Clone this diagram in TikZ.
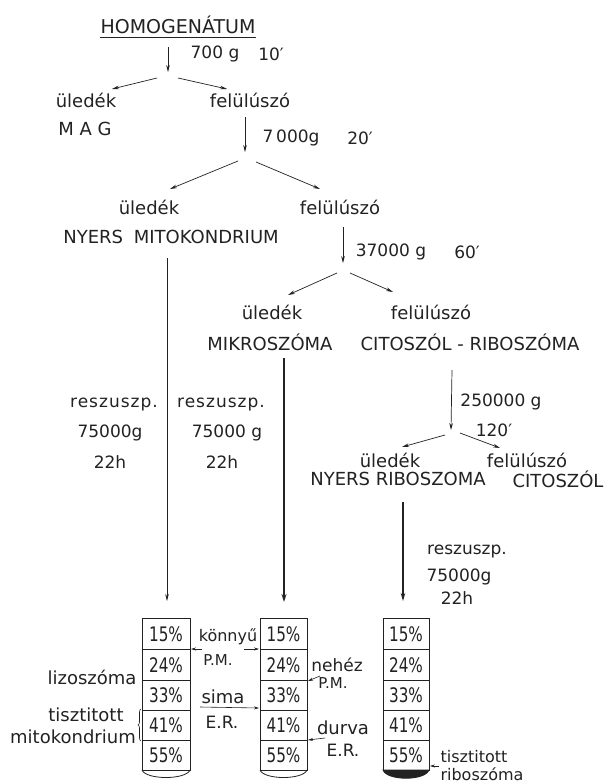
\documentclass[tikz,border=0pt]{standalone}
\usepackage{fontspec}
\setmainfont{DejaVu Sans}
\usepackage{graphicx}
\usetikzlibrary{arrows.meta,decorations.pathreplacing}
\newcommand\pcell[1]{\scalebox{0.76}[1]{#1\%}}
\definecolor{ink}{HTML}{222222}
\tikzset{
  txt/.style={inner sep=0pt, text=ink, font=\fontsize{18}{20}\selectfont},
  sm/.style={inner sep=0pt, text=ink, font=\fontsize{17}{19}\selectfont},
  num/.style={inner sep=0pt, text=ink, font=\fontsize{17}{19}\selectfont},
  pct/.style={inner sep=0pt, text=ink, font=\fontsize{20}{21}\selectfont},
  arr/.style={draw=ink, -{Stealth[length=7pt,width=3.6pt]}, line width=0.7pt},
  sarr/.style={draw=ink, -{Stealth[length=5pt,width=3pt]}, line width=0.6pt},
  tube/.style={draw=ink, line width=0.8pt},
}
\begin{document}
\begin{tikzpicture}[x=1pt,y=-1pt]
\useasboundingbox (0,0) rectangle (605,784);
\fill[white] (0,0) rectangle (605,784);

% level 1
\node[txt, font=\fontsize{19}{21}\selectfont] (homo) at (178,25) {HOMOGENÁTUM};
\draw[ink, line width=0.6pt] ([yshift=-3pt]homo.south west) -- ([yshift=-3pt]homo.south east);
\coordinate (a1s) at (168,47); \coordinate (a1e) at (168,72);
\draw[arr] (a1s) -- (a1e);
\node[num] (g700) at (215,54) {700 g};
\node[num] (t10) at (271,54) {10′};
\coordinate (b1) at (157,78); \coordinate (b1l) at (112,89);
\coordinate (b1r0) at (178,78); \coordinate (b1r) at (227,89);
\draw[arr] (b1) -- (b1l);
\draw[arr] (b1r0) -- (b1r);
\node[txt] (ul1n) at (86,100) {üledék};
\node[txt] (mag) at (85,129) {M A G};
\node[txt] (fel1) at (250,100) {felülúszó};

% level 2
\coordinate (a2s) at (245,117); \coordinate (a2e) at (245,152);
\draw[arr] (a2s) -- (a2e);
\node[num] (g7000) at (291,138) {7\,000g};
\node[num] (t20) at (360,138) {20′};
\coordinate (b2l0) at (238,161); \coordinate (b2l) at (170,189);
\coordinate (b2r0) at (256,162); \coordinate (b2r) at (320,189);
\draw[arr] (b2l0) -- (b2l);
\draw[arr] (b2r0) -- (b2r);
\node[txt] (ul2) at (149,207) {üledék};
\node[txt] (fel2) at (340,207) {felülúszó};
\node[txt] (nyersm) at (171,237) {NYERS\hspace{0.6em}MITOKONDRIUM};

% level 3
\coordinate (a3s) at (343,227); \coordinate (a3e) at (343,263);
\draw[arr] (a3s) -- (a3e);
\node[num] (g37) at (391,252) {37000 g};
\node[num] (t60) at (467,252) {60′};
\coordinate (b3l0) at (337,273); \coordinate (b3l) at (288,295);
\coordinate (b3r0) at (350,273); \coordinate (b3r) at (393,292);
\draw[arr] (b3l0) -- (b3l);
\draw[arr] (b3r0) -- (b3r);
\node[txt] (ul3) at (272,312) {üledék};
\node[txt] (fel3) at (431,312) {felülúszó};
\node[txt] (mikro) at (270,342) {MIKROSZÓMA};
\node[txt] (citrib) at (470,342) {CITOSZÓL - RIBOSZÓMA};

% level 4
\coordinate (a4s) at (452,370); \coordinate (a4e) at (451,430);
\draw[arr] (a4s) -- (a4e);
\node[num] (g250) at (501,402) {250000 g};
\node[num] (t120) at (494,430) {120′};
\coordinate (b4l0) at (445,435); \coordinate (b4l) at (402,447);
\coordinate (b4r0) at (460,433); \coordinate (b4r) at (500,448);
\draw[arr] (b4l0) -- (b4l);
\draw[arr] (b4r0) -- (b4r);
\node[txt] (ul4) at (390,460) {üledék};
\node[txt] (fel4) at (527,460) {felülúszó};
\node[txt] (nyersr) at (398,479) {NYERS RIBOSZOMA};
\node[txt] (cito) at (558,479) {CITOSZÓL};

% resuspension labels
\node[num, font=\fontsize{17}{19}\selectfont\addfontfeatures{LetterSpace=6}] (rs1) at (114,405) {reszuszp.};
\node[num] (g75a) at (110,433) {75000g};
\node[num] (h22a) at (110,462) {22h};
\node[num, font=\fontsize{17}{19}\selectfont\addfontfeatures{LetterSpace=6}] (rs2) at (221,405) {reszuszp.};
\node[num] (g75b) at (227,433) {75000 g};
\node[num] (h22b) at (222,462) {22h};
\node[num] (rs3) at (467,552) {reszuszp.};
\node[num] (g75c) at (459,577) {75000g};
\node[num] (h22c) at (457,598) {22h};

% long arrows to tubes
\coordinate (l1s) at (167,258); \coordinate (l1e) at (167,601);
\coordinate (l2s) at (284,358); \coordinate (l2e) at (284,602);
\coordinate (l3s) at (403,502); \coordinate (l3e) at (403,601);
\draw[arr] (l1s) -- (l1e);
\draw[arr, line width=1.5pt, -{Stealth[length=8pt,width=5pt]}] (l2s) -- (l2e);
\draw[arr, line width=1.1pt, -{Stealth[length=8pt,width=4.5pt]}] (l3s) -- (l3e);

% tubes
\foreach \t/\xa/\xb in {1/142/190, 2/260/307, 3/383/429}{
  \draw[tube] (\xa,618) rectangle (\xb,770);
  \foreach \yy in {649,680,710,740}{ \draw[tube] (\xa,\yy) -- (\xb,\yy); }
  \coordinate (tube\t tl) at (\xa,618);
  \coordinate (tube\t br) at (\xb,770);
  \node[pct] (t\t r1) at ({(\xa+\xb)/2},634) {\pcell{15}};
  \node[pct] (t\t r2) at ({(\xa+\xb)/2},665) {\pcell{24}};
  \node[pct] (t\t r3) at ({(\xa+\xb)/2},695) {\pcell{33}};
  \node[pct] (t\t r4) at ({(\xa+\xb)/2},725) {\pcell{41}};
  \node[pct] (t\t r5) at ({(\xa+\xb)/2},755) {\pcell{55}};
}
\draw[tube] (142,770) .. controls (146,780) and (186,780) .. (190,770);
\draw[tube] (260,770) .. controls (264,780) and (303,780) .. (307,770);
\draw[tube, fill=ink] (383,770) .. controls (387,781) and (425,781) .. (429,770) -- cycle;

% labels around tube 1
\node[sm, font=\fontsize{18}{20}\selectfont] (lizo) at (92,677) {lizoszóma};
\node[sm, font=\fontsize{18}{20}\selectfont] (tiszt1) at (86,715) {tisztitott};
\node[sm, font=\fontsize{18}{20}\selectfont] (mito) at (73,737) {mitokondrium};
\draw[ink, line width=0.6pt, decorate, decoration={brace, amplitude=3pt}] (141,741) -- (141,709);

% labels between tubes 1 and 2
\node[sm, font=\fontsize{16}{18}\selectfont] (konny) at (228,637) {könnyű};
\node[sm, font=\fontsize{15}{17}\selectfont] (pm1) at (218,660) {P.M.};
\coordinate (k1) at (202,649); \coordinate (k1e) at (191,649);
\coordinate (k2) at (244,649); \coordinate (k2e) at (259,649);
\draw[sarr] (k1) -- (k1e);
\draw[sarr] (k2) -- (k2e);
\node[sm, font=\fontsize{18}{20}\selectfont] (sima) at (223,697) {sima};
\node[sm] (er1) at (222,722) {E.R.};
\coordinate (s1) at (200,707); \coordinate (s1e) at (259,708);
\draw[sarr] (s1) -- (s1e);

% labels right of tube 2
\node[sm] (nehez) at (337,665) {nehéz};
\node[sm, font=\fontsize{15}{17}\selectfont] (pm2) at (333,683) {P.M.};
\coordinate (n1) at (320,676); \coordinate (n1e) at (308,681);
\draw[sarr] (n1) -- (n1e);
\node[sm, font=\fontsize{18}{20}\selectfont] (durva) at (343,728) {durva};
\node[sm] (er2) at (343,750) {E.R.};
\coordinate (d1) at (325,738); \coordinate (d1e) at (308,740);
\draw[sarr] (d1) -- (d1e);

% labels right of tube 3
\node[sm, font=\fontsize{16}{18}\selectfont] (tiszt3) at (474,757) {tisztitott};
\node[sm, font=\fontsize{16}{18}\selectfont] (ribo) at (482,774) {riboszóma};
\coordinate (r1) at (439,766); \coordinate (r1e) at (430,766);
\draw[sarr] (r1) -- (r1e);
\end{tikzpicture}
\end{document}
